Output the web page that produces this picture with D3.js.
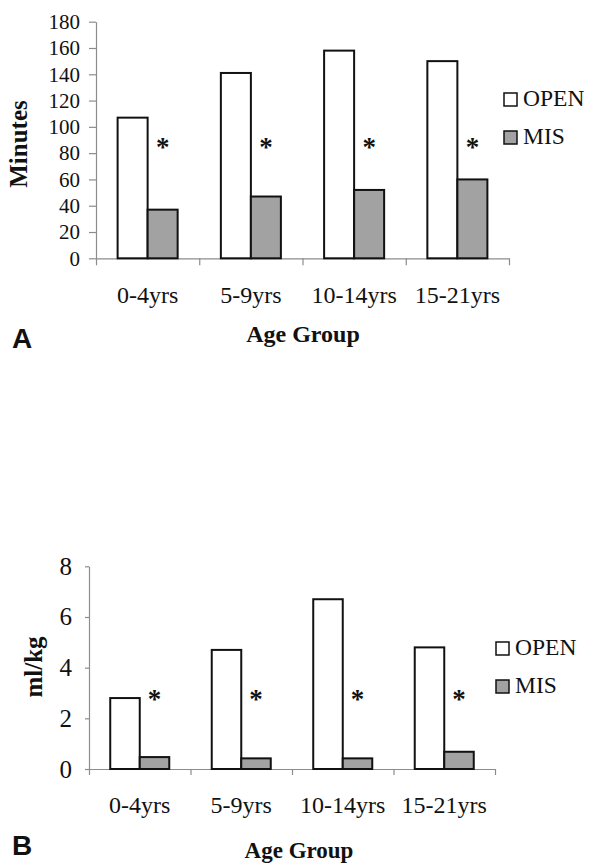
<!DOCTYPE html>
<html>
<head>
<meta charset="utf-8">
<script src="https://cdn.jsdelivr.net/npm/d3@7"></script>
<style>
  body { margin: 0; background: #fff; }
  text { font-family: "Liberation Serif", "Times New Roman", serif; fill: #111; }
</style>
</head>
<body>
<div id="chart"></div>
<script>
// data
var ageGroups = ["0-4yrs", "5-9yrs", "10-14yrs", "15-21yrs"];
var seriesNames = ["OPEN", "MIS"];
var minutesOpen = [107, 141, 158, 150];
var minutesMis = [37, 47, 52, 60];
var mlkgOpen = [2.8, 4.7, 6.7, 4.8];
var mlkgMis = [0.47, 0.42, 0.42, 0.68];
var minutesTicks = [0, 20, 40, 60, 80, 100, 120, 140, 160, 180];
var mlkgTicks = [0, 2, 4, 6, 8];

var colors = {OPEN: "#ffffff", MIS: "#a2a2a2"};

var svg = d3.select("#chart")
    .append("svg")
    .attr("width", 590)
    .attr("height", 867);

function drawPanel(p) {
    var g = svg.append("g");

    var x = d3.scaleBand()
        .domain(ageGroups)
        .range([p.left, p.right])
        .padding(0);
    var xs = d3.scaleBand()
        .domain(seriesNames)
        .range([0, x.bandwidth()])
        .paddingInner(0)
        .paddingOuter(0.72);
    var y = d3.scaleLinear()
        .domain([0, p.ticks[p.ticks.length - 1]])
        .range([p.bottom, p.top]);

    // y axis
    var ya = g.append("g")
        .attr("transform", "translate(" + p.left + ",0)")
        .call(d3.axisLeft(y).tickValues(p.ticks).tickSize(p.yTick).tickPadding(p.yPad).tickSizeOuter(0));
    ya.attr("font-family", null);
    ya.selectAll("text").style("font-size", p.yFont + "px").attr("fill", "#111")
        .style("font-family", "'Liberation Serif', serif");

    // x axis line with ticks at group boundaries
    var xb = d3.scaleLinear().domain([0, ageGroups.length]).range([p.left, p.right]);
    g.append("g")
        .attr("transform", "translate(0," + p.bottom + ")")
        .call(d3.axisBottom(xb).tickValues(d3.range(ageGroups.length + 1)).tickFormat("").tickSize(p.xTick).tickSizeOuter(0));

    g.selectAll(".domain, .tick line").attr("stroke", "#8c8c8c").attr("stroke-width", 1.2);

    // bars
    var rows = ageGroups.map(function(a, i) {
        return {group: a, values: [{k: "OPEN", v: p.open[i]}, {k: "MIS", v: p.mis[i]}]};
    });
    var grp = g.append("g").selectAll("g")
        .data(rows)
        .enter()
        .append("g")
        .attr("transform", function(d) { return "translate(" + x(d.group) + ",0)"; });
    grp.selectAll("rect")
        .data(function(d) { return d.values; })
        .enter()
        .append("rect")
        .attr("x", function(d) { return xs(d.k); })
        .attr("width", xs.bandwidth())
        .attr("y", function(d) { return y(d.v); })
        .attr("height", function(d) { return y(0) - y(d.v); })
        .attr("fill", function(d) { return colors[d.k]; })
        .attr("stroke", "#111")
        .attr("stroke-width", 2);

    // significance asterisks above MIS bars
    grp.append("text")
        .attr("x", xs("MIS") + xs.bandwidth() / 2)
        .attr("y", y(p.starAt) + 12)
        .attr("text-anchor", "middle")
        .style("font-size", "27px")
        .style("font-weight", "bold")
        .text("*");

    // category labels
    g.selectAll(".cat")
        .data(ageGroups)
        .enter()
        .append("text")
        .attr("x", function(d) { return x(d) + x.bandwidth() / 2; })
        .attr("y", p.bottom + p.catDy)
        .attr("text-anchor", "middle")
        .style("font-size", "24px")
        .text(function(d) { return d; });

    // axis titles
    g.append("text")
        .attr("x", p.xTitleX)
        .attr("y", p.xTitleY)
        .attr("text-anchor", "middle")
        .style("font-size", p.xTitleFont + "px")
        .style("font-weight", "bold")
        .text("Age Group");

    g.append("text")
        .attr("transform", "translate(" + p.yTitleX + "," + p.yTitleY + ") rotate(-90)")
        .attr("text-anchor", "middle")
        .style("font-size", "25px")
        .style("font-weight", "bold")
        .text(p.yTitle);

    // legend
    var leg = g.append("g").selectAll("g")
        .data(seriesNames)
        .enter()
        .append("g")
        .attr("transform", function(d, i) { return "translate(" + p.legX + "," + (p.legY + i * p.legStep) + ")"; });
    leg.append("rect")
        .attr("x", 0).attr("y", -13)
        .attr("width", 13).attr("height", 13)
        .attr("fill", function(d) { return colors[d]; })
        .attr("stroke", "#111")
        .attr("stroke-width", 1.5);
    leg.append("text")
        .attr("x", 19)
        .attr("y", 0)
        .style("font-size", "23.5px")
        .text(function(d) { return d; });

    // panel letter
    g.append("text")
        .attr("x", 12)
        .attr("y", p.letterY)
        .style("font-family", "'Liberation Sans', Arial, sans-serif")
        .style("font-weight", "bold")
        .style("font-size", "28px")
        .text(p.letter);
}

drawPanel({
    left: 96, right: 509, top: 21.7, bottom: 258.3,
    ticks: minutesTicks, open: minutesOpen, mis: minutesMis,
    yTick: 7, yPad: 9, yFont: 21, xTick: 7, catDy: 45,
    starAt: 87, yTitle: "Minutes", yTitleX: 27, yTitleY: 144,
    xTitleX: 303, xTitleY: 342, xTitleFont: 24,
    legX: 504, legY: 106, legStep: 38,
    letter: "A", letterY: 348
});

drawPanel({
    left: 89, right: 495, top: 566.3, bottom: 769,
    ticks: mlkgTicks, open: mlkgOpen, mis: mlkgMis,
    yTick: 4, yPad: 13, yFont: 25, xTick: 6, catDy: 44,
    starAt: 2.9, yTitle: "ml/kg", yTitleX: 42, yTitleY: 667,
    xTitleX: 299, xTitleY: 858, xTitleFont: 23,
    legX: 496, legY: 655, legStep: 38,
    letter: "B", letterY: 855
});
</script>
</body>
</html>
